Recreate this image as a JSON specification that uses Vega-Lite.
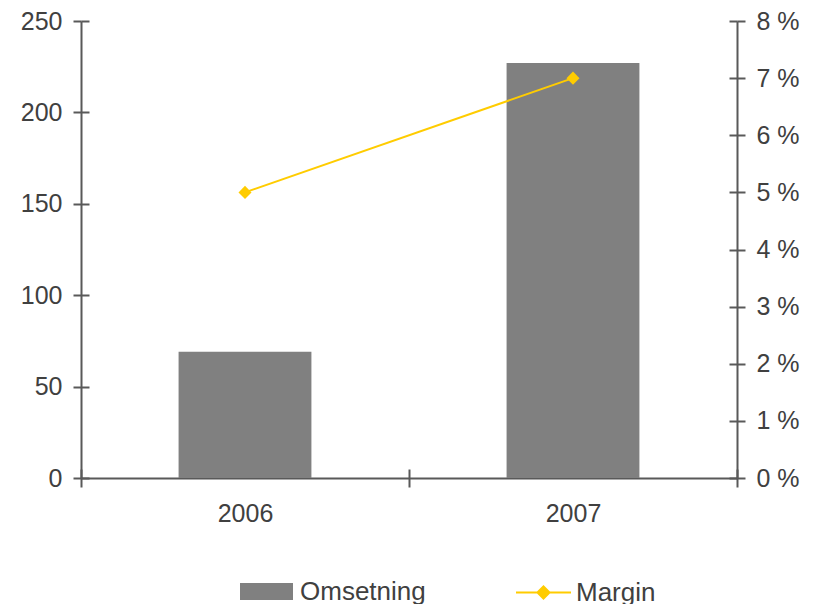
{
  "$schema": "https://vega.github.io/schema/vega-lite/v6.json",
  "autosize": "none",
  "padding": {"left": 81, "top": 21, "right": 80, "bottom": 126},
  "width": 656,
  "height": 457,
  "background": "white",
  "data": {"values": [
    {"Year": "2006", "Omsetning": 69, "Margin": 5},
    {"Year": "2007", "Omsetning": 227, "Margin": 7}
  ]},
  "config": {
    "view": {"stroke": null},
    "font": "Liberation Sans",
    "axis": {
      "grid": false,
      "domainColor": "#595959",
      "domainWidth": 2,
      "tickColor": "#595959",
      "tickWidth": 2,
      "labelFont": "Liberation Sans",
      "labelFontSize": 25,
      "labelColor": "#404040",
      "title": null
    },
    "legend": {
      "labelFont": "Liberation Sans",
      "labelFontSize": 26,
      "labelColor": "#404040",
      "padding": 0,
      "title": null
    }
  },
  "resolve": {
    "scale": {"y": "independent"},
    "axis": {"y": "independent", "x": "independent"}
  },
  "layer": [
    {
      "mark": {"type": "bar", "width": {"band": 0.405}},
      "encoding": {
        "x": {"field": "Year", "type": "nominal",
          "scale": {"paddingInner": 0, "paddingOuter": 0},
          "axis": {"orient": "bottom", "tickBand": "extent", "tickSize": 9, "labelAngle": 0, "labelPadding": 14}},
        "y": {"field": "Omsetning", "type": "quantitative",
          "scale": {"domain": [0, 250], "nice": false},
          "axis": {"orient": "left", "values": [0, 50, 100, 150, 200, 250], "tickSize": 8, "labelPadding": 11}},
        "fill": {"datum": "Omsetning", "type": "nominal",
          "scale": {"domain": ["Omsetning"], "range": ["#808080"]},
          "legend": {"orient": "none", "legendX": 159, "legendY": 544,
            "symbolType": "M-1,-0.32H1V0.32H-1Z", "symbolSize": 2809,
            "symbolStrokeWidth": 0, "labelOffset": 7}}
      }
    },
    {
      "mark": {"type": "bar", "opacity": 0, "width": {"band": 0.405}},
      "encoding": {
        "x": {"field": "Year", "type": "nominal",
          "scale": {"paddingInner": 0, "paddingOuter": 0},
          "axis": null},
        "y": {"field": "Omsetning", "type": "quantitative",
          "scale": {"domain": [0, 250], "nice": false},
          "axis": {"orient": "left", "values": [0, 50, 100, 150, 200, 250], "tickSize": -8, "labels": false, "domain": false}}
      }
    },
    {
      "mark": {"type": "line", "strokeWidth": 2},
      "encoding": {
        "x": {"field": "Year", "type": "nominal",
          "scale": {"paddingInner": 0, "paddingOuter": 0},
          "axis": null},
        "y": {"field": "Margin", "type": "quantitative",
          "scale": {"domain": [0, 8], "nice": false},
          "axis": {"orient": "right", "values": [0, 1, 2, 3, 4, 5, 6, 7, 8], "tickSize": 8, "labelPadding": 11,
            "labelExpr": "datum.value + ' %'"}},
        "stroke": {"datum": "Margin", "type": "nominal",
          "scale": {"domain": ["Margin"], "range": ["#FFCC00"]},
          "legend": {"orient": "none", "legendX": 434, "legendY": 543,
            "symbolType": "M-1,0H1M-0.22,0L0,-0.22L0.22,0L0,0.22Z", "symbolSize": 3025,
            "symbolStrokeWidth": 2, "symbolFillColor": "#FFCC00", "labelOffset": 4,
            "encode": {"symbols": {"update": {"fill": {"value": "#FFCC00"}, "stroke": {"value": "#FFCC00"}}}}}}
      }
    },
    {
      "mark": {"type": "point", "shape": "diamond", "filled": true, "size": 170, "color": "#FFCC00", "opacity": 1},
      "encoding": {
        "x": {"field": "Year", "type": "nominal",
          "scale": {"paddingInner": 0, "paddingOuter": 0},
          "axis": {"orient": "bottom", "tickBand": "extent", "tickSize": -9, "labels": false, "domain": false}},
        "y": {"field": "Margin", "type": "quantitative",
          "scale": {"domain": [0, 8], "nice": false},
          "axis": {"orient": "right", "values": [0, 1, 2, 3, 4, 5, 6, 7, 8], "tickSize": -8, "labels": false, "domain": false}}
      }
    }
  ]
}
